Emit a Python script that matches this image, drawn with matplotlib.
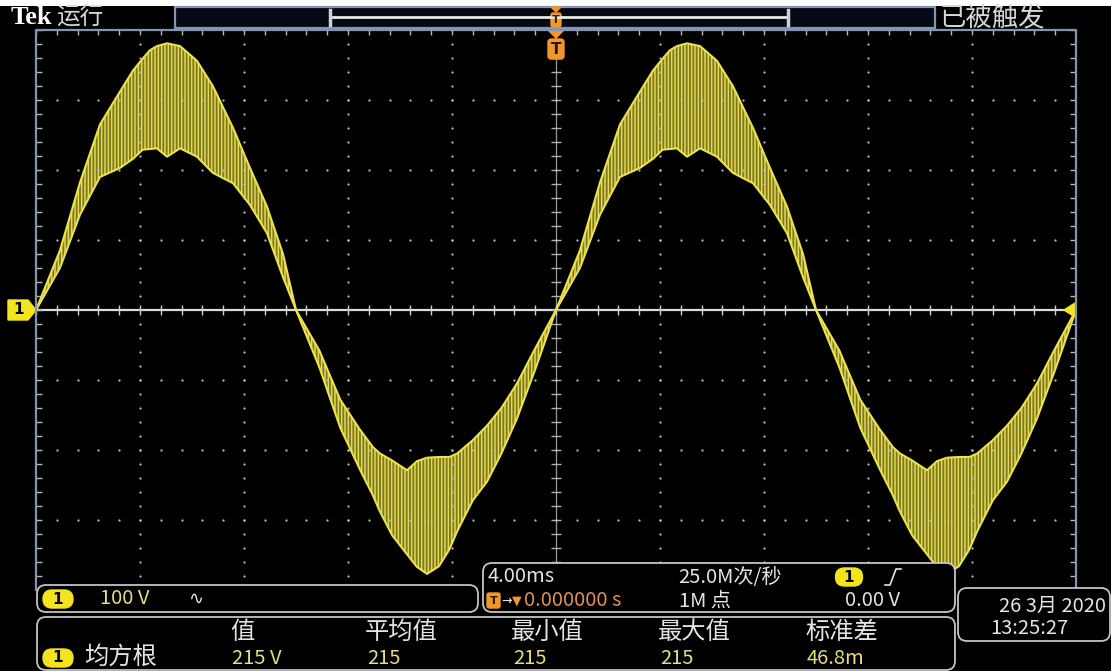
import numpy as np
import matplotlib
matplotlib.use('Agg')
import matplotlib.pyplot as plt
from matplotlib.patches import FancyBboxPatch, Polygon, Rectangle

plt.rcParams['font.family'] = ['Noto Sans CJK SC', 'DejaVu Sans']
plt.rcParams['hatch.linewidth'] = 1.1

# one 20 ms period of the channel 1 trace (ms, V)
t_ms = [0, 0.92, 1.69, 2.46, 3.23, 3.73, 4.1, 4.38, 4.65, 5.04, 5.54, 6.19, 6.8, 7.58, 8.23, 8.88, 9.5,
        10.0, 10.9, 11.7, 12.46, 12.96, 13.23, 13.7, 14.27, 14.65, 15.04, 15.5, 15.9, 16.2, 16.8,
        17.35, 17.9, 18.5, 19.2, 20.0]
v_upper = [0, 85, 182, 265, 312, 342, 359, 371, 377, 381, 377, 356, 320, 260, 203, 148, 80,
           0, -58, -128, -171, -196, -205, -215, -229, -216, -211, -210, -210, -205, -186,
           -165, -140, -105, -55, 0]
v_lower = [0, 60, 136, 190, 203, 216, 229, 230, 231, 219, 231, 219, 196, 181, 150, 110, 47,
           0, -82, -168, -228, -265, -288, -322, -349, -367, -377, -366, -342, -316, -272,
           -245, -205, -155, -85, 0]
n_cycles = 2

# screen readouts
meas_headers = ['值', '平均值', '最小值', '最大值', '标准差']
meas_values = ['215 V', '215', '215', '215', '46.8m']
meas_x = [230, 365, 511, 658, 805]

W, H = 1111, 671
fig = plt.figure(figsize=(W / 100, H / 100), dpi=100, facecolor='black')

# graticule: 10 x 8 divisions, 4 ms/div, 100 V/div
gl, gr, gt, gb = 36, 1076, 30, 590
ax = fig.add_axes([gl / W, 1 - gb / H, (gr - gl) / W, (gb - gt) / H])
ax.set_facecolor('black')
ax.set_xlim(0, 40)
ax.set_ylim(-400, 400)
ax.set_xticks([])
ax.set_yticks([])
for s in ax.spines.values():
    s.set_visible(False)

dot = '#bcbcbc'
ys = np.arange(-400, 401, 20)
for xv in np.arange(4, 40, 4):
    if xv == 20:
        continue
    ax.scatter(np.full(ys.size, xv), ys, s=2.6, color=dot, lw=0, zorder=5)
xs = np.arange(0, 40.01, 0.8)
for yv in [-300, -200, -100, 100, 200, 300]:
    ax.scatter(xs, np.full(xs.size, yv), s=2.6, color=dot, lw=0, zorder=5)

# centre lines with minor ticks
ax.axhline(0, color='#dcdcdc', lw=1.6, zorder=2)
ax.axvline(20, color='#9a9a9a', lw=0.9, zorder=2)
ax.plot(xs, np.zeros(xs.size), ls='none', marker='|', ms=7, color='#d0d0d0', mew=1, zorder=2)
ax.plot(np.full(ys.size, 20), ys, ls='none', marker='_', ms=7, color='#b0b0b0', mew=1, zorder=2)
# edge ticks
ax.plot(xs, np.full(xs.size, 397), ls='none', marker='|', ms=5, color='#b8b8b8', mew=1, zorder=2)
ax.plot(np.full(ys.size, 0.12), ys, ls='none', marker='_', ms=5, color='#b8b8b8', mew=1, zorder=2)
ax.plot(np.full(ys.size, 39.88), ys, ls='none', marker='_', ms=5, color='#b8b8b8', mew=1, zorder=2)

# trace
for k in range(n_cycles):
    tt = np.array(t_ms) + 20 * k
    ax.fill_between(tt, v_lower, v_upper, facecolor='#7a7622', edgecolor='#e4da50',
                    hatch='|||||', linewidth=0, zorder=3)
    ax.plot(tt, v_upper, color='#ece250', lw=1.5, zorder=4)
    ax.plot(tt, v_lower, color='#ece250', lw=1.5, zorder=4)

# overlay in screen pixels
ov = fig.add_axes([0, 0, 1, 1], facecolor='none')
ov.set_xlim(0, W)
ov.set_ylim(H, 0)
ov.axis('off')

frame = '#8494b4'
ov.plot([gl, gl, gr, gr], [gb, gt, gt, gb], color=frame, lw=1.6)
ov.add_patch(Rectangle((0, 0), W, 6, color='white', lw=0))

# top bar
ov.text(11, 17, 'Tek', color='white', fontsize=19, fontweight='bold',
        family='Liberation Serif', va='center', ha='left')
ov.text(56, 17, '运行', color='#d6d6d6', fontsize=17, va='center', ha='left')
ov.text(940, 18, '已被触发', color='#d6d6d6', fontsize=19, va='center', ha='left')
ov.add_patch(Rectangle((175, 7), 760, 21, facecolor='#050914', edgecolor=frame, lw=1.6))
ov.plot([330, 788], [17, 17], color='#e8e8e8', lw=2)
ov.plot([330, 330], [10, 25], color='#d0d0d0', lw=2.5)
ov.plot([788, 788], [10, 25], color='#d0d0d0', lw=2.5)

orange = '#f0962c'
ov.add_patch(Polygon([[551, 7], [561, 7], [556, 12]], color=orange))
ov.add_patch(FancyBboxPatch((551, 13), 10, 14, boxstyle='round,pad=0,rounding_size=2',
                            color=orange))
ov.text(556, 20, 'T', color='#3a2000', fontsize=8, fontweight='bold', ha='center', va='center',
        family='DejaVu Sans')
ov.add_patch(Polygon([[548, 30], [564, 30], [556, 38]], color=orange))
ov.add_patch(FancyBboxPatch((548, 39), 16, 20, boxstyle='round,pad=0,rounding_size=3',
                            color=orange))
ov.text(556, 49, 'T', color='#2a1500', fontsize=11, fontweight='bold', ha='center', va='center',
        family='DejaVu Sans')

# channel markers
yellow = '#f4e41e'
ov.add_patch(Polygon([[8, 300], [28, 300], [36, 310], [28, 320], [8, 320]], color=yellow))
ov.text(19, 310, '1', color='black', fontsize=11, fontweight='bold', ha='center', va='center',
        family='DejaVu Sans')
ov.add_patch(Polygon([[1064, 310], [1075, 303], [1075, 317]], color=yellow))


def panel(x0, y0, x1, y1):
    ov.add_patch(FancyBboxPatch((x0, y0), x1 - x0, y1 - y0,
                                boxstyle='round,pad=0,rounding_size=9',
                                facecolor='black', edgecolor='#c4c4c4', lw=1.3, zorder=6))


def pill(xc, yc, w=30, h=18):
    ov.add_patch(FancyBboxPatch((xc - w / 2, yc - h / 2), w, h,
                                boxstyle='round,pad=0,rounding_size=9',
                                color=yellow, zorder=7))
    ov.text(xc, yc, '1', color='black', fontsize=11, fontweight='bold', ha='center',
            va='center', family='DejaVu Sans', zorder=8)


white = '#e4e4e4'
pale = '#e6dc82'
fs = 14.5

# channel box
panel(37, 585, 478, 612)
pill(58, 599)
ov.text(100, 599, '100 V', color=pale, fontsize=fs, va='center', zorder=8)
ov.text(188, 599, '∿', color=white, fontsize=13, va='center', family='DejaVu Sans', zorder=8)

# timebase / trigger box
panel(483, 563, 955, 612)
ov.text(488, 577, '4.00ms', color=white, fontsize=fs, va='center', zorder=8)
ov.text(678, 577, '25.0M次/秒', color=white, fontsize=fs, va='center', zorder=8)
pill(849, 577, w=27)
ov.plot([885, 890, 896, 901], [585, 585, 569, 569], color=white, lw=1.2, zorder=8)
ov.add_patch(FancyBboxPatch((487, 593), 13, 15, boxstyle='round,pad=0,rounding_size=2',
                            color=orange, zorder=7))
ov.text(493.5, 600.5, 'T', color='#2a1500', fontsize=8, fontweight='bold', ha='center',
        va='center', family='DejaVu Sans', zorder=8)
ov.text(501, 601, '→', color=white, fontsize=9, va='center', family='DejaVu Sans', zorder=8)
ov.text(512, 601, '▼', color=orange, fontsize=9, va='center', family='DejaVu Sans', zorder=8)
ov.text(524, 601, '0.000000 s', color='#e0905a', fontsize=fs, va='center', zorder=8)
ov.text(679, 601, '1M 点', color=white, fontsize=fs, va='center', zorder=8)
ov.text(845, 601, '0.00 V', color=white, fontsize=fs, va='center', zorder=8)

# date box
panel(958, 588, 1110, 641)
ov.text(1106, 606, '26 3月 2020', color=white, fontsize=fs, va='center', ha='right', zorder=8)
ov.text(990, 628, '13:25:27', color=white, fontsize=fs, va='center', zorder=8)

# measurement box
panel(37, 617, 955, 670)
pill(58, 658)
ov.text(84, 657, '均方根', color=white, fontsize=17.5, va='center', zorder=8)
for x, hdr, val in zip(meas_x, meas_headers, meas_values):
    ov.text(x, 632, hdr, color=white, fontsize=17.5, va='center', zorder=8)
    ov.text(x + 2, 658, val, color=pale, fontsize=fs, va='center', zorder=8)

fig.savefig('out.png', dpi=100, facecolor='black')
